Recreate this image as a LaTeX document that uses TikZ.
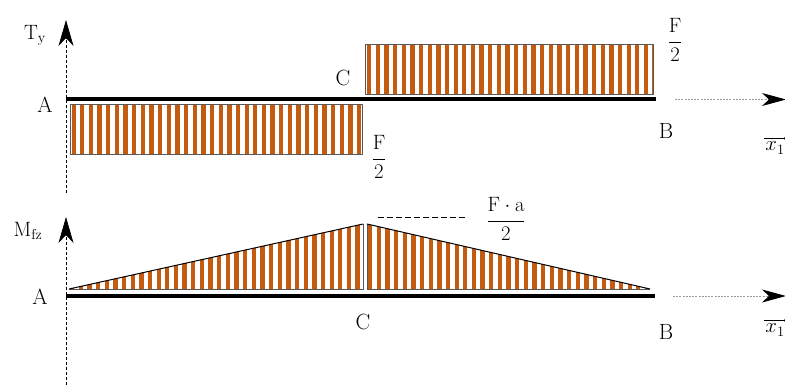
\documentclass[tikz,border=0pt]{standalone}
\usetikzlibrary{arrows.meta}
\definecolor{orng}{HTML}{C55A11}
\definecolor{edge}{HTML}{595959}
\definecolor{axgray}{HTML}{9A9A9A}
\tikzset{
  lbl/.style={font=\fontsize{22}{26}\selectfont, inner sep=0pt},
  beam/.style={line width=4pt, black},
  yaxis/.style={black, line width=0.7pt, dash pattern=on 3pt off 2pt, -{Stealth[length=26pt,width=15pt,inset=8pt]}},
  xaxis/.style={axgray, line width=1pt, dash pattern=on 2pt off 1.2pt, -{Stealth[length=24pt,width=13pt,inset=7pt,black]}},
  outl/.style={edge, line width=1pt},
  hyp/.style={black, line width=1pt},
  lvl/.style={black, line width=1pt, dash pattern=on 6pt off 3pt},
  vecarr/.style={black, line width=0.8pt, -{To[length=2.5pt,width=3pt]}},
}
\begin{document}
\begin{tikzpicture}[x=1pt,y=-1pt]
\useasboundingbox (0,0) rectangle (785,385);
% ---------- top diagram (shear force)
\coordinate (ta0) at (66,193);
\coordinate (ta1) at (66,20);
\coordinate (tA) at (66,99.5);
\coordinate (tB) at (656,99.5);
\coordinate (tx0) at (675,99.5);
\coordinate (tx1) at (786,99.5);
% lower rectangle
\begin{scope}
  \clip (70,105) rectangle (362,155);
  \foreach \x in {71.5,80.15,...,362} \fill[orng] (\x,105) rectangle ++(4.3,50);
\end{scope}
\draw[outl] (70,105) rectangle (362,155);
% upper rectangle
\begin{scope}
  \clip (365,45) rectangle (653,95);
  \foreach \x in {367,375.65,...,653} \fill[orng] (\x,45) rectangle ++(4.3,50);
\end{scope}
\draw[outl] (365,45) rectangle (653,95);
\draw[yaxis] (ta0) -- (ta1);
\draw[beam] (tA) -- (tB);
\draw[xaxis] (tx0) -- (tx1);
\node[lbl] (Ty) at (35,35) {$\mathrm{T_y}$};
\node[lbl] (tAl) at (45,105) {A};
\node[lbl] (tCl) at (343,78) {C};
\node[lbl] (tBl) at (666,131) {B};
\node[lbl] (tF1) at (379,157) {$\displaystyle\frac{\mathrm{F}}{2}$};
\node[lbl] (tF2) at (675,40) {$\displaystyle\frac{\mathrm{F}}{2}$};
\node[lbl] (tx) at (775,148) {$x_1$};
\draw[vecarr] ([xshift=-1pt,yshift=3.5pt]tx.north west) -- ([xshift=2pt,yshift=3.5pt]tx.north east);
% ---------- bottom diagram (bending moment)
\coordinate (ba0) at (66,385);
\coordinate (ba1) at (66,217);
\coordinate (bA) at (66,296);
\coordinate (bB) at (655,296);
\coordinate (bx0) at (673,296);
\coordinate (bx1) at (786,296);
\begin{scope}
  \clip (69,289) -- (363,224) -- (363,289) -- cycle;
  \foreach \x in {70,78.65,...,363} \fill[orng] (\x,220) rectangle ++(4.3,70);
\end{scope}
\draw[outl] (69,289) -- (363,289) -- (363,224);
\draw[hyp] (69,289) -- (363,224);
\begin{scope}
  \clip (367,224) -- (650,289) -- (367,289) -- cycle;
  \foreach \x in {368,376.65,...,650} \fill[orng] (\x,220) rectangle ++(4.3,70);
\end{scope}
\draw[outl] (650,289) -- (367,289) -- (367,224);
\draw[hyp] (367,224) -- (650,289);
\coordinate (lv0) at (378,217);
\coordinate (lv1) at (468,217);
\draw[lvl] (lv0) -- (lv1);
\draw[yaxis] (ba0) -- (ba1);
\draw[beam] (bA) -- (bB);
\draw[xaxis] (bx0) -- (bx1);
\node[lbl] (Mfz) at (28,231) {$\mathrm{M_{fz}}$};
\node[lbl] (bAl) at (40,297) {A};
\node[lbl] (bCl) at (363,322) {C};
\node[lbl] (bBl) at (666,332) {B};
\node[lbl] (Fa) at (506,219) {$\displaystyle\frac{\mathrm{F}\cdot\mathrm{a}}{2}$};
\node[lbl] (bx) at (775,330) {$x_1$};
\draw[vecarr] ([xshift=-1pt,yshift=3.5pt]bx.north west) -- ([xshift=2pt,yshift=3.5pt]bx.north east);
\end{tikzpicture}
\end{document}
